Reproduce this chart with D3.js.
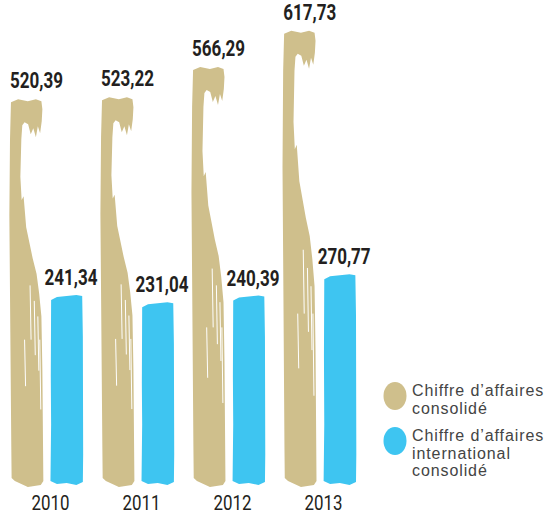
<!DOCTYPE html>
<html>
<head>
  <meta charset="utf-8">
  <script src="https://d3js.org/d3.v7.min.js"></script>
  <style>
    body { margin: 0; background: #fff; }
  </style>
</head>
<body>
  <svg id="chart" width="549" height="514"></svg>

  <script>
    const years = ["2010", "2011", "2012", "2013"];
    const seriesKeys = ["consolide", "international"];
    const seriesNames = [["Chiffre d’affaires", "consolidé"],
                         ["Chiffre d’affaires", "international", "consolidé"]];
    const consolide = [520.39, 523.22, 566.29, 617.73];
    const international = [241.34, 231.04, 240.39, 270.77];
    const labels = {consolide: ["520,39", "523,22", "566,29", "617,73"],
                    international: ["241,34", "231,04", "240,39", "270,77"]};

    const colors = {consolide: "#cfbf8c", international: "#3ec5f1"};

    let svg = d3.select("svg#chart");
    const floor = 487;

    let x0 = d3.scaleBand()
               .domain(years)
               .range([10, 356])
               .paddingInner(0.2);

    let x1 = d3.scaleBand()
               .domain(seriesKeys)
               .range([0, x0.bandwidth()])
               .paddingInner(0.2);

    let y = d3.scaleLinear()
              .domain([0, 640])
              .range([466, 15]);

    // brush stroke with the little hook on top (consolidé)
    function beigePath(x, w, top, bot) {
      const H = bot - top;
      const pts = [
        [0.03, top + 3], [0.25, top], [0.55, top + 2], [0.8, top], [0.97, top + 2],
        [1.0, top + 10], [0.98, top + 22], [0.93, top + 34], [0.86, top + 27],
        [0.8, top + 38], [0.72, top + 29], [0.64, top + 35], [0.56, top + 25],
        [0.45, top + 23], [0.38, top + 26], [0.35, top + 40],
        [0.32, top + 0.2 * H], [0.36, top + 0.26 * H], [0.42, top + 0.25 * H],
        [0.5, top + 0.33 * H], [0.6, top + 0.37 * H], [0.7, top + 0.41 * H],
        [0.82, top + 0.45 * H], [0.9, top + 0.5 * H], [0.97, top + 0.56 * H],
        [1.0, top + 0.7 * H], [1.03, bot - 6], [0.95, bot - 2], [0.75, bot - 1],
        [0.55, bot], [0.35, bot - 3], [0.15, bot - 6], [0.05, bot - 9],
        [0.04, bot - 40], [0.01, top + 0.6 * H], [-0.02, top + 0.3 * H], [0.0, top + 40]
      ];
      return d3.line()(pts.map(p => [x + p[0] * w, p[1]])) + "Z";
    }

    // thin dry-brush streaks inside the beige stroke
    const streaks = [[0.62, 0.48, 0.62], [0.75, 0.52, 0.66], [0.86, 0.56, 0.7], [0.45, 0.62, 0.74], [0.92, 0.62, 0.8]];

    function bluePath(x, w, top, bot) {
      const pts = [
        [0.02, top + 4], [0.2, top + 1], [0.5, top], [0.8, top - 1], [0.98, top],
        [1.0, top + 40], [1.01, bot - 30], [1.0, bot - 2], [0.8, bot + 1],
        [0.5, bot - 1], [0.2, bot], [0.0, bot - 3], [0.02, bot - 60], [0.01, top + 80]
      ];
      return d3.line()(pts.map(p => [x + p[0] * w, p[1]])) + "Z";
    }

    const data = years.map((yr, i) => ({year: yr, consolide: consolide[i], international: international[i], i: i}));

    // bars first
    data.forEach(d => {
      seriesKeys.forEach(k => {
        let bx = x0(d.year) + x1(k);
        let w = x1.bandwidth();
        let top = y(d[k]);
        svg.append("path")
           .attr("d", k == "consolide" ? beigePath(bx, w, top, floor)
                                       : bluePath(bx, w, top, floor - 3))
           .style("fill", colors[k]);
        if (k == "consolide") {
          let H = floor - top;
          streaks.forEach(s => {
            svg.append("line")
               .attr("x1", bx + s[0] * w).attr("x2", bx + s[0] * w + 1)
               .attr("y1", top + s[1] * H).attr("y2", top + s[2] * H)
               .style("stroke", "#fff")
               .style("stroke-width", 1);
          });
        }
      });
    });

    // then the labels on top
    data.forEach(d => {
      seriesKeys.forEach(k => {
        let bx = x0(d.year) + x1(k);
        svg.append("text")
           .text(labels[k][d.i])
           .attr("x", bx - (k == "consolide" ? 0 : 6))
           .attr("y", y(d[k]) - 11)
           .attr("textLength", 53)
           .attr("lengthAdjust", "spacingAndGlyphs")
           .style("font-family", "Roboto, sans-serif")
           .style("font-weight", "bold")
           .style("font-size", "22px")
           .style("fill", "#231f20");
      });
      svg.append("text")
         .text(d.year)
         .attr("x", x0(d.year) + x0.bandwidth() / 2 + 4)
         .attr("y", 510)
         .attr("textLength", 38)
         .attr("lengthAdjust", "spacingAndGlyphs")
         .style("text-anchor", "middle")
         .style("font-family", "Roboto, sans-serif")
         .style("font-size", "21px")
         .style("fill", "#231f20");
    });

    // legend
    let legendY = [396, 441];
    seriesKeys.forEach((k, i) => {
      svg.append("ellipse")
         .attr("cx", 395)
         .attr("cy", legendY[i])
         .attr("rx", 11.5)
         .attr("ry", 14)
         .style("fill", colors[k]);
      seriesNames[i].forEach((line, j) => {
        svg.append("text")
           .text(line)
           .attr("x", 412)
           .attr("y", legendY[i] + j * 17.6)
           .style("font-family", "'Liberation Sans', sans-serif")
           .style("font-size", "16px")
           .style("letter-spacing", "0.9px")
           .style("fill", "#444");
      });
    });
  </script>
</body>
</html>
